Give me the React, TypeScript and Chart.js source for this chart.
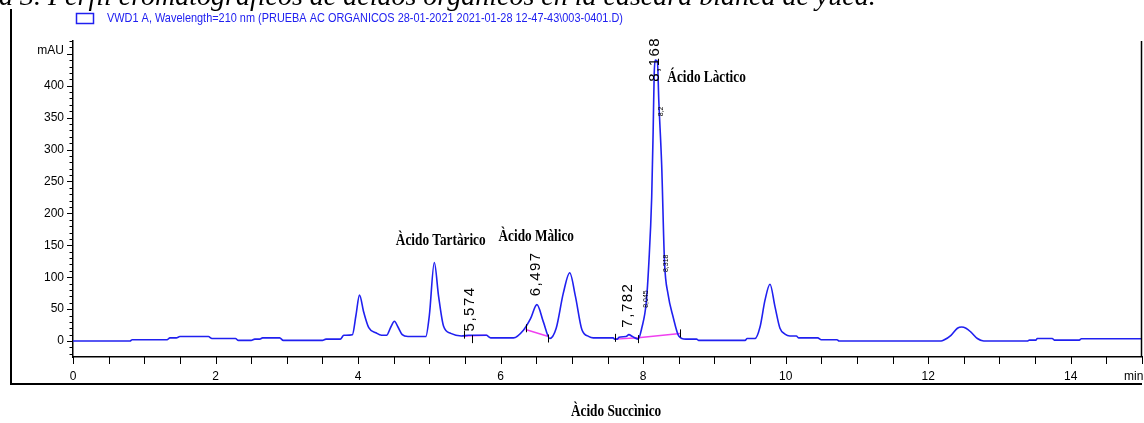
import React, { useEffect, useRef } from 'react';
import { Chart, registerables } from 'chart.js';
Chart.register(...registerables);

// ---- signal (retention time in min, absorbance in mAU) ----
const times = [
  0, 0.8, 0.83, 1.32, 1.36, 1.45, 1.5, 1.9, 1.95, 2.28, 2.32, 2.5, 2.55, 2.62, 2.66, 2.9, 2.95, 3.5, 3.55, 3.75,
  3.8, 3.92, 3.97, 4.02, 4.08, 4.15, 4.25, 4.33, 4.4, 4.46, 4.51, 4.56, 4.62, 4.7, 4.95, 5.0, 5.07, 5.13, 5.2, 5.3,
  5.45, 5.55, 5.8, 5.86, 6.18, 6.32, 6.42, 6.51, 6.6, 6.69, 6.78, 6.88, 6.97, 7.05, 7.14, 7.24, 7.3, 7.58, 7.6, 7.64,
  7.66, 7.76, 7.8, 7.85, 7.93, 7.98, 8.045, 8.08, 8.12, 8.14, 8.155, 8.17, 8.2, 8.22, 8.26, 8.3, 8.35, 8.42, 8.5, 8.6,
  8.75, 8.78, 9.43, 9.46, 9.57, 9.64, 9.71, 9.78, 9.85, 9.92, 9.99, 10.06, 10.15, 10.18, 10.45, 10.5, 10.72, 10.75,
  12.18, 12.22, 12.32, 12.41, 12.47, 12.53, 12.6, 12.69, 12.78, 13.39, 13.42, 13.51, 13.53, 13.74, 13.77, 14.12, 14.15, 15.0,
];
const signal = [
  0, 0, 2, 2, 5, 5, 7, 7, 4, 4, 1, 1, 3, 3, 5, 5, 1, 1, 3, 3,
  9, 10, 40, 72, 45, 21, 13, 9, 9, 22, 31, 22, 10, 7, 7, 40, 123, 70, 23, 12,
  8, 9, 9, 5, 5, 17, 35, 57, 30, 4, 20, 75, 107, 70, 18, 7, 5, 5, 3, 3,
  6, 7, 10, 7, 3, 20, 62, 122, 225, 326, 417, 440, 438, 376, 276, 124, 73, 38, 8, 3,
  3, 1, 1, 4, 4, 22, 64, 89, 54, 20, 11, 8, 8, 5, 5, 2, 2, 0,
  0, 1.5, 9, 20, 22, 20, 14, 4, 0, 0, 1.5, 1.5, 4, 4, 1.5, 1.5, 3.5, 3.5,
];

// ---- integration baselines ----
const baseATimes = [5.48, 5.81];
const baseAValues = [8, 9];
const baseBTimes = [6.35, 6.66];
const baseBValues = [18, 7.5];
const baseCTimes = [7.61, 7.93, 8.52];
const baseCValues = [3, 5, 12];

// integration event marks
const eventTimes = [5.48, 5.6, 6.35, 6.66, 7.61, 7.93, 8.52];
const eventValues = [10, 3, 20, 4, 5, 3, 12];

// retention time labels
const rtLabels = ['5,574', '6,497', '7,782', '8,168'];
const rtTimes = [5.574, 6.497, 7.782, 8.168];
const rtValues = [15, 70, 21, 406];
const smallLabels = ['8,045', '8,318', '8,2'];
const smallTimes = [8.04, 8.318, 8.245];
const smallValues = [52, 108, 352];

// compound names
const peakNames = ['Àcido Tartàrico', 'Àcido Màlico', 'Ácido Làctico', 'Àcido Succìnico'];
const peakNameTimes = [5.16, 6.5, 8.34, 7.62];
const peakNameValues = [151, 156, 405, -117];
const peakNameAlign: CanvasTextAlign[] = ['center', 'center', 'left', 'center'];

// axes
const xLabelValues = [0, 2, 4, 6, 8, 10, 12, 14];
const yLabelValues = [0, 50, 100, 150, 200, 250, 300, 350, 400];
const xTickStep = 0.5;
const yTickStep = 10;

const legendText = 'VWD1 A, Wavelength=210 nm (PRUEBA AC ORGANICOS 28-01-2021 2021-01-28 12-47-43\\003-0401.D)';
const captionText = 'Figura 3. Perfil cromatográficos de ácidos orgánicos en la cáscara blanca de yuca.';

const SANS = '"Liberation Sans", Arial, sans-serif';
const SERIF = '"Liberation Serif", "DejaVu Serif", serif';
const TRACE = '#2020f0';
const MAGENTA = '#f040f0';

const decor = {
  id: 'decor',
  afterDraw(chart: any) {
    const ctx: CanvasRenderingContext2D = chart.ctx;
    const xs = chart.scales.x;
    const ys = chart.scales.y;
    const area = chart.chartArea;
    ctx.save();

    // caption (cut at top)
    ctx.fillStyle = '#000';
    ctx.font = `italic 28px ${SERIF}`;
    ctx.textAlign = 'left';
    ctx.textBaseline = 'alphabetic';
    const off = ctx.measureText('Figur').width;
    ctx.fillText(captionText, -off - 1, 5);

    // frame
    ctx.strokeStyle = '#000';
    ctx.lineWidth = 2;
    ctx.beginPath();
    ctx.moveTo(11, 9);
    ctx.lineTo(11, 384);
    ctx.lineTo(area.right, 384);
    ctx.stroke();
    ctx.lineWidth = 1.5;
    ctx.beginPath();
    ctx.moveTo(area.right - 0.5, area.top);
    ctx.lineTo(area.right - 0.5, area.bottom);
    ctx.stroke();

    // legend (narrow sans)
    ctx.strokeStyle = TRACE;
    ctx.lineWidth = 1.5;
    ctx.strokeRect(76.5, 13.5, 17, 10);
    ctx.fillStyle = TRACE;
    ctx.font = `13px ${SANS}`;
    ctx.textBaseline = 'middle';
    ctx.save();
    ctx.translate(107, 18);
    const lw = ctx.measureText(chart.data.datasets[0].label).width;
    ctx.scale(516 / lw, 1);
    ctx.fillText(chart.data.datasets[0].label, 0, 0);
    ctx.restore();

    // axis ticks
    ctx.strokeStyle = '#000';
    ctx.lineWidth = 1;
    const x0 = area.left;
    for (let v = -20; v <= 470; v += yTickStep) {
      const y = Math.round(ys.getPixelForValue(v)) + 0.5;
      const len = v % 50 === 0 ? 6 : 3.5;
      ctx.beginPath();
      ctx.moveTo(x0 - len, y);
      ctx.lineTo(x0, y);
      ctx.stroke();
    }
    const y0 = area.bottom;
    for (let t = 0; t <= 15; t += xTickStep) {
      const x = Math.round(xs.getPixelForValue(t)) + 0.5;
      ctx.beginPath();
      ctx.moveTo(x, y0);
      ctx.lineTo(x, y0 + 7);
      ctx.stroke();
    }
    ctx.fillStyle = '#000';
    ctx.font = `12px ${SANS}`;
    ctx.textAlign = 'right';
    ctx.textBaseline = 'middle';
    ctx.fillText('mAU', x0 - 9, ys.getPixelForValue(455));
    ctx.textAlign = 'left';
    ctx.fillText('min', xs.getPixelForValue(15) - 18, 377);

    // integration event marks
    ctx.lineWidth = 1;
    eventTimes.forEach((t, i) => {
      const x = Math.round(xs.getPixelForValue(t)) + 0.5;
      const y = ys.getPixelForValue(eventValues[i]);
      ctx.beginPath();
      ctx.moveTo(x, y - 4);
      ctx.lineTo(x, y + 4);
      ctx.stroke();
    });

    // retention time labels
    const rot = (txt: string, t: number, v: number, font: string, spacing: string) => {
      ctx.save();
      ctx.translate(xs.getPixelForValue(t), ys.getPixelForValue(v));
      ctx.rotate(-Math.PI / 2);
      ctx.font = font;
      (ctx as any).letterSpacing = spacing;
      ctx.textAlign = 'left';
      ctx.textBaseline = 'middle';
      ctx.fillText(txt, 0, 0);
      ctx.restore();
    };
    ctx.fillStyle = '#000';
    rtLabels.forEach((l, i) => rot(l, rtTimes[i], rtValues[i], `15px ${SANS}`, '1.5px'));
    smallLabels.forEach((l, i) => rot(l, smallTimes[i], smallValues[i], `7px ${SANS}`, '0px'));

    // compound names
    peakNames.forEach((n, i) => {
      ctx.save();
      const x = xs.getPixelForValue(peakNameTimes[i]);
      const y = ys.getPixelForValue(peakNameValues[i]);
      ctx.translate(x, y);
      ctx.scale(0.78, 1);
      ctx.font = `bold 17px ${SERIF}`;
      ctx.textAlign = peakNameAlign[i];
      ctx.textBaseline = 'alphabetic';
      ctx.fillStyle = '#000';
      ctx.fillText(n, 0, 0);
      ctx.restore();
    });

    ctx.restore();
  },
};

export default function App() {
  const ref = useRef<HTMLCanvasElement | null>(null);
  useEffect(() => {
    if (!ref.current) return;
    const pts = (ts: number[], vs: number[]) => ts.map((t, i) => ({ x: t, y: vs[i] }));
    const baseStyle = { borderColor: MAGENTA, borderWidth: 1.5, pointRadius: 0, tension: 0, fill: false };
    const chart = new Chart(ref.current, {
      type: 'line',
      data: {
        datasets: [
          {
            label: legendText,
            data: pts(times, signal),
            borderColor: TRACE,
            borderWidth: 1.6,
            pointRadius: 0,
            cubicInterpolationMode: 'monotone',
            fill: false,
            order: 0,
          },
          { label: 'baseA', data: pts(baseATimes, baseAValues), ...baseStyle, order: 1 },
          { label: 'baseB', data: pts(baseBTimes, baseBValues), ...baseStyle, order: 1 },
          { label: 'baseC', data: pts(baseCTimes, baseCValues), ...baseStyle, order: 1 },
        ] as any,
      },
      options: {
        animation: false,
        responsive: false,
        maintainAspectRatio: false,
        layout: { padding: { top: 41, right: 2, left: 0, bottom: 0 } },
        plugins: { legend: { display: false }, tooltip: { enabled: false }, title: { display: false } },
        scales: {
          x: {
            type: 'linear',
            min: 0,
            max: 15,
            afterBuildTicks: (s: any) => { s.ticks = xLabelValues.map((v) => ({ value: v })); },
            afterFit: (s: any) => { s.height = 66; },
            grid: { display: true, drawOnChartArea: false, drawTicks: false },
            border: { display: true, color: '#000', width: 1.5 },
            ticks: { padding: 12, color: '#000', font: { family: SANS, size: 12 }, maxRotation: 0, autoSkip: false },
          },
          y: {
            type: 'linear',
            min: -25,
            max: 470,
            afterBuildTicks: (s: any) => { s.ticks = yLabelValues.map((v) => ({ value: v })); },
            afterFit: (s: any) => { s.width = 73; },
            grid: { display: true, drawOnChartArea: false, drawTicks: false },
            border: { display: true, color: '#000', width: 1.5 },
            ticks: { padding: 9, color: '#000', font: { family: SANS, size: 12 }, autoSkip: false },
          },
        },
      } as any,
      plugins: [decor],
    });
    return () => chart.destroy();
  }, []);
  return (
    <div style={{ position: 'absolute', left: 0, top: 0, width: 1144, height: 423, background: '#fff' }}>
      <canvas ref={ref} width={1144} height={423} style={{ display: 'block' }} />
    </div>
  );
}
